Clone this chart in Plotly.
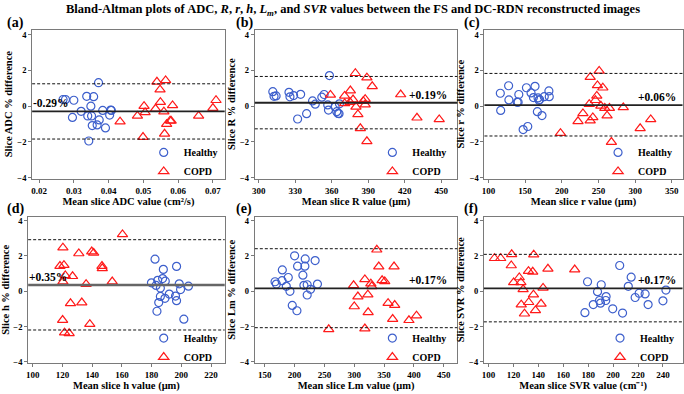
import plotly.graph_objects as go

W, H = 684, 394

TITLE = ("Bland-Altman plots of ADC, <i>R</i>, <i>r</i>, <i>h</i>, <i>L<sub>m</sub></i>, "
         "and <i>SVR</i> values between the FS and DC-RDN reconstructed images")

panel_labels = ["(a)", "(b)", "(c)", "(d)", "(e)", "(f)"]
x_titles = ["Mean slice ADC value (cm²/s)", "Mean slice R value (μm)", "Mean slice r value (μm)",
            "Mean slice h value (μm)", "Mean slice Lm value (μm)", "Mean slice SVR value (cm⁻¹)"]
y_titles = ["Slice ADC % difference", "Slice R % difference", "Slice r % difference",
            "Slice h % difference", "Slice Lm % difference", "Slice SVR % difference"]

bias = [-0.29, 0.19, 0.06, 0.35, 0.17, 0.17]
upper_loa = [1.25, 1.66, 1.83, 2.92, 2.41, 2.09]
lower_loa = [-1.84, -1.27, -1.67, -2.19, -2.06, -1.73]

x_tick0 = [0.02, 300, 100, 100, 150, 100]
x_dtick = [0.01, 30, 50, 20, 50, 20]
y_ticks = [-4, -2, 0, 2, 4]

# ---- (a) ADC ----
a_healthy_x = [0.0269, 0.0276, 0.0300, 0.0337, 0.0357, 0.0371, 0.0349, 0.0321, 0.0296, 0.0340,
               0.0351, 0.0383, 0.0406, 0.0408, 0.0403, 0.0373, 0.0353, 0.0367, 0.0391, 0.0343]
a_healthy_y = [0.37, 0.37, 0.33, 0.55, 0.53, 1.31, 0.00, -0.29, -0.63, -0.55,
               -0.55, -0.24, -0.22, -0.24, -0.50, -0.77, -1.09, -1.05, -1.22, -1.95]
a_copd_x = [0.0433, 0.0483, 0.0502, 0.0505, 0.0499, 0.0539, 0.0564, 0.0548, 0.0549, 0.0535,
            0.0559, 0.0584, 0.0577, 0.0580, 0.0567, 0.0561, 0.0659, 0.0709, 0.0700]
a_copd_y = [-0.87, -0.55, 0.00, -0.35, -1.73, 1.36, 1.44, 0.92, 0.22, -0.15,
            -0.31, 0.04, -0.81, -0.83, -1.01, -1.55, -0.55, 0.33, -0.11]

# ---- (b) R ----
b_healthy_x = [311.5, 312.5, 314.2, 324.8, 325.6, 328.6, 334.4, 331.9, 339.3, 344.2,
               346.4, 351.8, 353.7, 358.1, 356.7, 357.3, 362.7, 364.1, 365.2, 366.3, 366.0]
b_healthy_y = [0.81, 0.55, 0.57, 0.77, 0.52, 0.59, 0.66, -0.72, -0.42, 0.29,
               0.11, 0.50, 0.65, 1.71, 0.07, -0.22, -0.04, -0.31, -0.41, 0.13, -0.42]
b_copd_x = [358.9, 370.6, 370.6, 375.3, 377.5, 379.9, 379.4, 375.0, 381.5, 383.5,
            385.9, 387.5, 387.5, 388.9, 393.3, 388.9, 416.7, 430.1, 448.4]
b_copd_y = [0.63, 0.15, 0.57, 0.87, 0.37, -0.04, 1.84, 0.22, -0.46, -1.24,
            0.28, 0.39, 0.09, 1.59, 1.11, -1.97, 0.65, -0.65, -0.74]

# ---- (c) r ----
c_healthy_x = [116.2, 116.7, 127.5, 127.9, 139.2, 140.5, 141.4, 151.8, 153.6, 147.3,
               158.1, 161.3, 163.5, 166.7, 167.6, 169.8, 168.9, 173.0, 176.1, 182.4, 182.9]
c_healthy_y = [0.72, -0.24, 1.14, 0.35, 0.22, 0.22, 0.65, 1.03, -1.14, -1.31,
               0.74, 0.48, 1.11, -0.31, 0.46, 0.37, 0.33, -0.53, 0.53, 0.85, 0.53]
c_copd_x = [198.2, 222.1, 228.8, 237.4, 238.7, 238.7, 242.3, 245.9, 247.7, 248.6,
            250.9, 255.9, 253.2, 258.6, 261.7, 264.9, 267.6, 283.8, 306.8, 321.2]
c_copd_y = [-1.51, -0.85, -0.41, 0.11, 1.62, -0.81, -0.63, 0.33, 0.57, 1.16,
            1.97, 1.03, 0.02, -0.11, -0.53, -0.11, -2.01, -0.07, -1.24, -0.74]

# ---- (d) h ----
d_healthy_x = [182.3, 196.8, 187.9, 179.9, 183.0, 184.1, 187.4, 189.2, 185.9, 198.6,
               199.5, 204.8, 185.9, 191.9, 196.1, 189.0, 184.8, 196.8, 183.6, 201.7]
d_healthy_y = [1.82, 1.41, 1.24, 0.48, 0.33, 0.62, 0.72, 0.57, 0.18, 0.42,
               0.10, 0.29, -0.29, -0.16, -0.27, -0.40, -0.64, -0.53, -1.13, -1.58]
d_copd_x = [160.4, 120.3, 118.3, 121.0, 121.9, 120.3, 126.8, 131.0, 139.7, 141.0,
            146.6, 146.8, 135.9, 153.5, 125.4, 133.0, 120.1, 138.4, 121.4, 124.5]
d_copd_y = [3.22, 2.47, 1.43, 1.48, 0.90, 0.55, 0.85, 2.14, 2.25, 2.17,
            1.43, 1.30, 0.40, 0.55, -0.68, -0.64, -1.63, -1.86, -2.34, -2.38]

# ---- (e) Lm ----
e_healthy_x = [200.0, 217.8, 234.4, 205.0, 217.2, 179.4, 213.9, 189.4, 167.2, 178.9,
               169.4, 186.1, 192.2, 215.6, 221.1, 226.7, 238.3, 221.1, 196.1, 203.9]
e_healthy_y = [2.01, 1.83, 1.74, 1.42, 1.42, 1.21, 0.91, 0.78, 0.54, 0.60,
               0.41, 0.28, 0.00, 0.34, 0.37, 0.11, 0.41, -0.21, -0.80, -1.10]
e_copd_x = [257.2, 337.8, 341.1, 366.7, 317.8, 298.9, 327.8, 329.4, 346.7, 351.1,
            306.1, 322.8, 300.0, 323.3, 356.7, 367.8, 364.4, 391.7, 404.4, 317.8]
e_copd_y = [-2.15, 2.35, 1.40, 1.40, 0.67, 0.34, 0.43, 0.28, 0.62, 0.56,
            -0.30, -0.19, -0.86, -1.19, -0.67, -0.78, -1.57, -1.64, -1.38, -2.11]

# ---- (f) SVR ----
f_healthy_x = [179.5, 177.4, 184.1, 187.5, 190.5, 189.1, 189.9, 194.1, 194.4, 199.7,
               205.3, 207.6, 212.2, 214.5, 217.7, 220.9, 225.7, 228.1, 240.0, 242.4]
f_healthy_y = [0.54, -1.21, -0.75, -0.02, 0.37, -0.52, -0.67, -0.52, -0.30, -0.99,
               1.46, -1.23, 0.28, 0.80, -0.35, -0.11, -0.15, -0.75, -0.54, 0.07]
f_copd_x = [104.8, 109.8, 118.6, 136.3, 118.3, 124.7, 120.2, 126.0, 132.1, 135.5,
            147.7, 169.2, 127.8, 136.1, 143.8, 126.3, 132.3, 142.2, 137.7, 128.9]
f_copd_y = [1.87, 1.87, 2.09, 2.07, 1.46, 0.78, 0.50, 0.50, 1.14, 1.10,
            1.27, 1.23, 0.11, -0.19, 0.19, -0.76, -0.62, -0.71, -1.08, -1.27]

healthy_x = [a_healthy_x, b_healthy_x, c_healthy_x, d_healthy_x, e_healthy_x, f_healthy_x]
healthy_y = [a_healthy_y, b_healthy_y, c_healthy_y, d_healthy_y, e_healthy_y, f_healthy_y]
copd_x = [a_copd_x, b_copd_x, c_copd_x, d_copd_x, e_copd_x, f_copd_x]
copd_y = [a_copd_y, b_copd_y, c_copd_y, d_copd_y, e_copd_y, f_copd_y]

# ---- layout geometry (pixels) ----
x_px = [(29.3, 223), (253.3, 457), (484.3, 683.5), (25.3, 223), (253.3, 457), (483.7, 683.5)]
y_px = [(29, 180), (29, 180), (29, 180), (218.5, 366.5), (218.5, 366.5), (218.5, 366.5)]
x_range = [[0.018, 0.0734], [296.7, 463.3], [94.6, 364.5], [96.9, 229.2], [133.3, 472.8], [96.3, 255.7]]
y_range = [[-4.06, 4.28], [-4.06, 4.28], [-4.06, 4.28], [-4.05, 4.22], [-4.05, 4.22], [-4.05, 4.22]]
bias_side = ["left", "right", "right", "left", "right", "right"]
label_px = [(2, 22), (232, 22), (462, 22), (2, 211), (232, 211), (462, 211)]
legend_px = [(221, 163), (451, 163), (678, 163), (221, 351), (451, 351), (680, 351)]

SERIF = "Liberation Serif, Times New Roman, serif"
BLUE = "#3d5fcc"
RED = "#ff1a1a"
AXIS = "#7a7a7a"

fig = go.Figure()
layout = dict(
    width=W, height=H,
    margin=dict(l=0, r=0, t=0, b=0),
    paper_bgcolor="white", plot_bgcolor="white",
    font=dict(family=SERIF, color="black"),
    title=dict(text=TITLE, x=353 / W, xanchor="center", y=1 - 8.5 / H, yanchor="middle",
               font=dict(family=SERIF, size=12.5, weight="bold", color="black")),
)
shapes = []
annotations = []

for i in range(6):
    n = "" if i == 0 else str(i + 1)
    xa, ya = "x" + n, "y" + n
    leg = "legend" + n
    fig.add_trace(go.Scatter(
        x=healthy_x[i], y=healthy_y[i], mode="markers", name="Healthy",
        xaxis=xa, yaxis=ya, legend=leg,
        marker=dict(symbol="circle-open", size=8, color=BLUE, line=dict(width=1.2, color=BLUE))))
    fig.add_trace(go.Scatter(
        x=copd_x[i], y=copd_y[i], mode="markers", name="COPD",
        xaxis=xa, yaxis=ya, legend=leg,
        marker=dict(symbol="triangle-up-open", size=9, color=RED, line=dict(width=1.2, color=RED))))

    x0, x1 = x_px[i]
    yt, yb = y_px[i]
    layout["xaxis" + n] = dict(
        domain=[x0 / W, x1 / W], range=x_range[i], anchor=ya,
        tick0=x_tick0[i], dtick=x_dtick[i], showgrid=False, zeroline=False,
        showline=True, mirror=True, linecolor=AXIS, linewidth=1, ticks="outside", ticklen=3,
        tickcolor=AXIS, tickfont=dict(family=SERIF, size=9, weight="bold"),
        title=dict(text=x_titles[i], standoff=3,
                   font=dict(family=SERIF, size=10.5, weight="bold")))
    layout["yaxis" + n] = dict(
        domain=[1 - yb / H, 1 - yt / H], range=y_range[i], anchor=xa,
        tickvals=y_ticks, showgrid=False, zeroline=False,
        showline=True, mirror=True, linecolor=AXIS, linewidth=1, ticks="outside", ticklen=3,
        tickcolor=AXIS, tickfont=dict(family=SERIF, size=8.5, weight="bold"),
        title=dict(text=y_titles[i], standoff=2,
                   font=dict(family=SERIF, size=10.5, weight="bold")))
    lx, ly = legend_px[i]
    layout[leg] = dict(
        x=lx / W, y=1 - ly / H, xanchor="right", yanchor="middle",
        bgcolor="rgba(0,0,0,0)", itemwidth=30, tracegroupgap=0,
        font=dict(family=SERIF, size=10, weight="bold", color="black"))

    xd = xa + " domain"
    mean_color = "#666" if i == 3 else "#222"
    mean_width = 2.5 if i == 3 else 1.8
    shapes.append(dict(type="line", xref=xd, yref=ya, x0=0, x1=1, y0=bias[i], y1=bias[i],
                       line=dict(color=mean_color, width=mean_width)))
    for v in (upper_loa[i], lower_loa[i]):
        shapes.append(dict(type="line", xref=xd, yref=ya, x0=0, x1=1, y0=v, y1=v,
                           line=dict(color="#111", width=1, dash="3px,2px")))
    if bias_side[i] == "left":
        annotations.append(dict(xref=xd, yref=ya, x=0.0, xshift=-1, y=bias[i], xanchor="left",
                                yanchor="bottom", showarrow=False,
                                text=f"{bias[i]:+.2f}%",
                                font=dict(family=SERIF, size=11.5, weight="bold")))
    else:
        annotations.append(dict(xref=xd, yref=ya, x=0.96 if i in (1, 4) else 0.975,
                                y=bias[i], xanchor="right", yanchor="bottom",
                                showarrow=False, text=f"{bias[i]:+.2f}%",
                                font=dict(family=SERIF, size=11.5, weight="bold")))
    px, py = label_px[i]
    annotations.append(dict(xref="paper", yref="paper", x=px / W, y=1 - py / H,
                            xanchor="left", yanchor="middle", showarrow=False,
                            text=panel_labels[i],
                            font=dict(family=SERIF, size=14, weight="bold")))

layout["shapes"] = shapes
layout["annotations"] = annotations
fig.update_layout(**layout)
fig.write_html("out.html", config={"displayModeBar": False},
               post_script="document.body.style.margin='0';document.body.style.overflow='hidden';")
